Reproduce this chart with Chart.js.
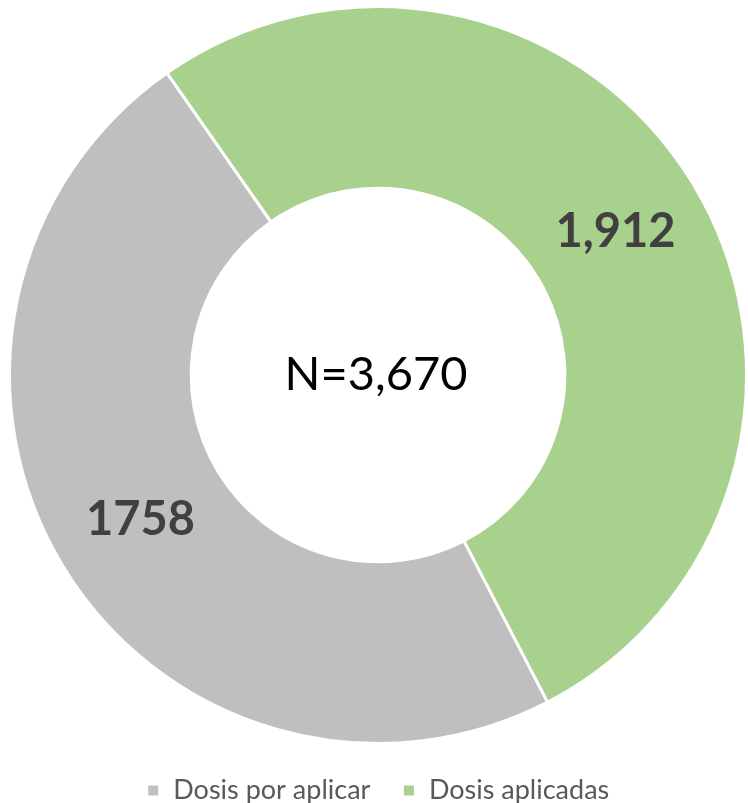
<!DOCTYPE html>
<html><head><meta charset="utf-8">
<script src="https://cdn.jsdelivr.net/npm/chart.js@4"></script>
<style>html,body{margin:0;padding:0;background:#fff}#wrap{width:748px;height:803px}</style>
</head><body><div id="wrap"><canvas id="c"></canvas></div>
<script>
const categories = ["Dosis por aplicar", "Dosis aplicadas"];
const values = [1758, 1912];
const valueLabels = ["1758", "1,912"];
const centerText = "N=3,670";
const colors = ["#BFBFBF", "#A9D18E"];

const FONT = "Lato, 'Open Sans', sans-serif";

const labelPlugin = {
  id: 'labels',
  afterDatasetsDraw(chart) {
    const ctx = chart.ctx;
    const meta = chart.getDatasetMeta(0);
    ctx.save();
    ctx.textAlign = 'center';
    ctx.textBaseline = 'middle';
    ctx.fillStyle = '#404040';
    ctx.font = "bold 47px " + FONT;
    meta.data.forEach((arc, i) => {
      const p = arc.tooltipPosition();
      ctx.fillText(valueLabels[i], p.x, p.y + 1);
    });
    const a = meta.data[0];
    ctx.fillStyle = '#000';
    ctx.font = "47px " + FONT;
    ctx.fillText(centerText, a.x - 2, a.y);
    ctx.restore();
  }
};

new Chart(document.getElementById('c'), {
  type: 'doughnut',
  data: {
    labels: categories,
    datasets: [{
      data: values,
      backgroundColor: colors,
      borderColor: '#ffffff',
      borderWidth: 3,
      hoverOffset: 0
    }]
  },
  options: {
    responsive: true,
    maintainAspectRatio: false,
    animation: false,
    rotation: 152.6,
    cutout: '50.7%',
    layout: { padding: { top: 5, left: 8, right: 0, bottom: -11 } },
    plugins: {
      tooltip: { enabled: false },
      legend: {
        position: 'bottom',
        labels: {
          color: '#595959',
          font: { family: FONT, size: 27 },
          boxWidth: 13,
          boxHeight: 13,
          padding: 32
        }
      }
    }
  },
  plugins: [labelPlugin]
});
</script></body></html>
